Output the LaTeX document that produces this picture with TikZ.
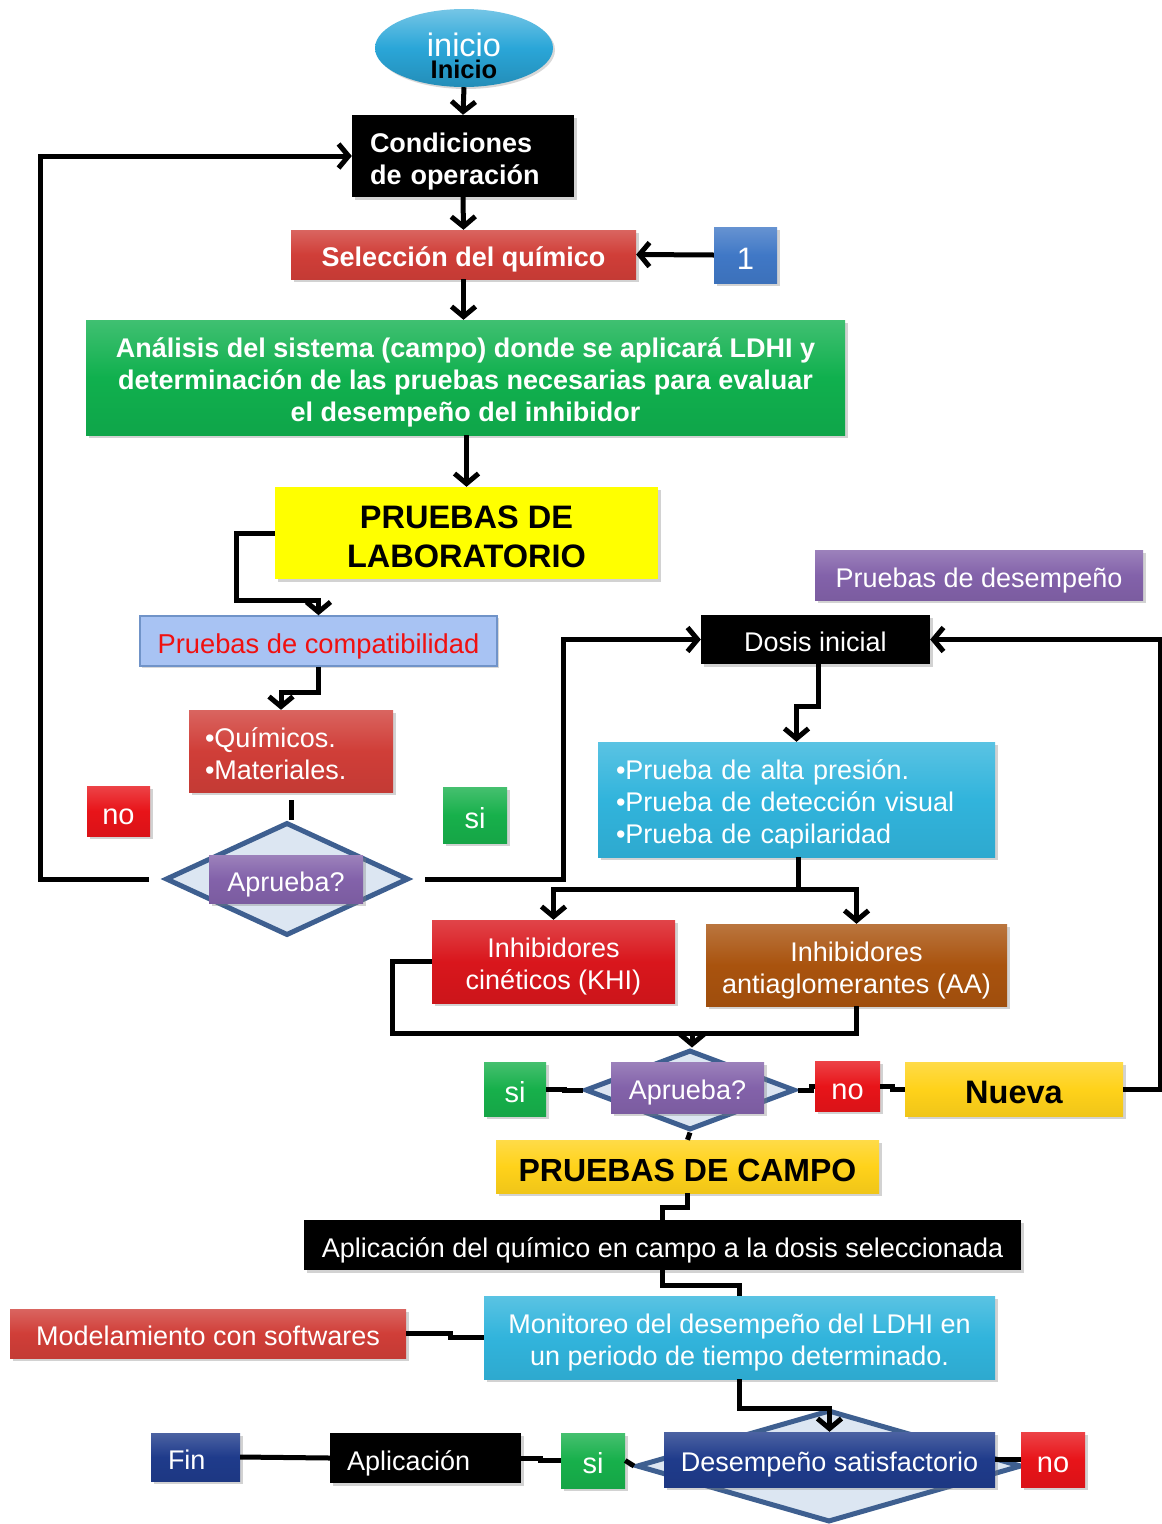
\documentclass[tikz,border=0pt]{standalone}
\usepackage{fontspec}
\setmainfont{Liberation Sans}
\usetikzlibrary{arrows.meta,shapes.geometric,shadows}
\newcommand\Tp{\rule{0pt}{1.16em}}
\newcommand\Bt{\rule[-.24em]{0pt}{.24em}}
\definecolor{cIni}{HTML}{2AA6D8}
\definecolor{cRed}{HTML}{D03E38}
\definecolor{cBlue}{HTML}{4078C6}
\definecolor{cGreen}{HTML}{10B04E}
\definecolor{cYel}{HTML}{FFFF00}
\definecolor{cComp}{HTML}{A8C3F3}
\definecolor{cCompB}{HTML}{7093C8}
\definecolor{cCompT}{HTML}{F01010}
\definecolor{cNo}{HTML}{E81419}
\definecolor{cSi}{HTML}{17B04B}
\definecolor{cDiaF}{HTML}{DCE6F2}
\definecolor{cDiaB}{HTML}{3E5F90}
\definecolor{cPur}{HTML}{8362AA}
\definecolor{cCyan}{HTML}{31B4DC}
\definecolor{cKhi}{HTML}{D9161C}
\definecolor{cAA}{HTML}{A9530E}
\definecolor{cGold}{HTML}{FFD21A}
\definecolor{cNavy}{HTML}{1F3B8B}
\begin{document}
\begin{tikzpicture}[x=1pt,y=-1pt,
  line/.style={line width=5pt,black},
  arr/.style={line,-{Straight Barb[length=10pt,width=24pt]}},
  box/.style={rectangle,inner sep=0pt,align=center,text=white,
    drop shadow={shadow xshift=2.5pt,shadow yshift=-2.5pt,opacity=.35}},
  g/.style={top color=#1!80!white,bottom color=#1!94!black,middle color=#1},
  fB/.style={font=\bfseries\fontsize{27}{32}\selectfont},
  fR/.style={font=\fontsize{27}{32}\selectfont},
  fBig/.style={font=\bfseries\fontsize{32.5}{39}\selectfont},
  fSi/.style={font=\fontsize{29}{32}\selectfont},
  dia/.style={diamond,draw=cDiaB,line width=5pt,fill=cDiaF,inner sep=0pt}]
\useasboundingbox (0,0) rectangle (1162,1524);
\fill[white] (0,0) rectangle (1162,1524);

% top
\node[ellipse,inner sep=0pt,minimum width=178pt,minimum height=78pt,
  top color=cIni!65!white,bottom color=cIni!85!black,middle color=cIni,
  drop shadow={shadow xshift=2pt,shadow yshift=-2pt,opacity=.3}] (ini) at (464,48) {};
\node[text=white,font=\fontsize{32.5}{36}\selectfont] (iniA) at (464,45) {inicio};
\node[text=black,font=\bfseries\fontsize{25.5}{30}\selectfont] (iniB) at (464,69) {Inicio};

\node[box,fill=black,minimum width=222pt,minimum height=82pt,text width=186pt,align=left,fB] (cond) at (463,156) {\Tp Condiciones\\de operación\Bt};
\node[box,g=cRed,minimum width=345pt,minimum height=49pt,fB] (sel) at (463.5,254.5) {\Tp Selección del químico\Bt};
\node[box,g=cBlue,minimum width=63pt,minimum height=56pt,font=\fontsize{31}{36}\selectfont] (one) at (745.5,255) {\Tp 1\Bt};
\node[box,g=cGreen,minimum width=759pt,minimum height=115pt,fB] (ana) at (465.5,377.5)
  {\Tp Análisis del sistema (campo) donde se aplicará LDHI y\\determinación de las pruebas necesarias para evaluar\\el desempeño del inhibidor\Bt};
\node[box,fill=cYel,text=black,minimum width=383pt,minimum height=92pt,fBig] (lab) at (466.5,533) {\Tp PRUEBAS DE\\LABORATORIO\Bt};

% left branch
\node[rectangle,inner sep=0pt,fill=cComp,draw=cCompB,line width=1.5pt,text=cCompT,minimum width=357pt,minimum height=50pt,
  font=\fontsize{27.3}{32}\selectfont,drop shadow={shadow xshift=2pt,shadow yshift=-2pt,opacity=.3}] (comp) at (318.5,641) {\Tp Pruebas de compatibilidad\Bt};
\node[box,g=cRed,minimum width=204pt,minimum height=82pt,text width=172pt,align=left,fR] (quim) at (291,751) {\Tp•Químicos.\\•Materiales.\Bt};
\node[box,g=cNo,minimum width=63pt,minimum height=50pt,fSi] (no1) at (118.5,811) {\Tp no\Bt};
\node[box,g=cSi,minimum width=64pt,minimum height=56pt,fSi] (si1) at (475,815) {\Tp si\Bt};
\node[dia,minimum width=243pt,minimum height=113pt] (dia1) at (287,879) {};
\node[box,g=cPur,minimum width=154pt,minimum height=48pt,fR] (apr1) at (286,879) {\Tp Aprueba?\Bt};

% right branch
\node[box,g=cPur,minimum width=328pt,minimum height=50pt,fR] (des) at (979,575) {\Tp Pruebas de desempeño\Bt};
\node[box,fill=black,minimum width=229pt,minimum height=49pt,fR] (dosis) at (815.5,639.5) {\Tp Dosis inicial\Bt};
\node[box,g=cCyan,minimum width=397pt,minimum height=115pt,text width=361pt,align=left,fR] (prb) at (796.5,799.5)
  {\Tp•Prueba de alta presión.\\•Prueba de detección visual\\•Prueba de capilaridad\Bt};
\node[box,g=cKhi,minimum width=243pt,minimum height=83pt,fR] (khi) at (553.5,961.5) {\Tp Inhibidores\\cinéticos (KHI)\Bt};
\node[box,g=cAA,minimum width=301pt,minimum height=82pt,fR] (aa) at (856.5,965) {\Tp Inhibidores\\antiaglomerantes (AA)\Bt};

\node[dia,minimum width=210pt,minimum height=80pt] (dia2) at (690,1090) {};
\node[box,g=cPur,minimum width=153pt,minimum height=51pt,fR] (apr2) at (687.5,1087.5) {\Tp Aprueba?\Bt};
\node[box,g=cSi,minimum width=62pt,minimum height=54pt,fSi] (si2) at (515,1089) {\Tp si\Bt};
\node[box,g=cNo,minimum width=65pt,minimum height=50pt,fSi] (no2) at (847.5,1086) {\Tp no\Bt};
\node[box,g=cGold,text=black,minimum width=218pt,minimum height=54pt,fBig] (nueva) at (1014,1089) {\Tp Nueva\Bt};
\node[box,g=cGold,text=black,minimum width=383pt,minimum height=53pt,font=\bfseries\fontsize{32}{36}\selectfont] (campo) at (687.5,1166.5) {\Tp PRUEBAS DE CAMPO\Bt};

% bottom
\node[box,fill=black,minimum width=717pt,minimum height=50pt,fR] (aplq) at (662.5,1245) {\Tp Aplicación del químico en campo a la dosis seleccionada\Bt};
\node[box,g=cCyan,minimum width=511pt,minimum height=83pt,fR] (mon) at (739.5,1337.5) {\Tp Monitoreo del desempeño del LDHI en\\un periodo de tiempo determinado.\Bt};
\node[box,g=cRed,minimum width=396pt,minimum height=49pt,fR] (mod) at (208,1333.5) {\Tp Modelamiento con softwares\Bt};
\node[dia,minimum width=385pt,minimum height=112pt] (dia3) at (829,1466) {};
\node[box,g=cNavy,minimum width=331pt,minimum height=55pt,fR] (desat) at (829.5,1459.5) {\Tp Desempeño satisfactorio\Bt};
\node[box,g=cNo,minimum width=64pt,minimum height=55pt,fSi] (no3) at (1053,1459.5) {\Tp no\Bt};
\node[box,g=cSi,minimum width=64pt,minimum height=55pt,fSi] (si3) at (593,1460.5) {\Tp si\Bt};
\node[box,fill=black,minimum width=191pt,minimum height=50pt,text width=157pt,align=left,fR] (apl) at (425.5,1458) {\Tp Aplicación\Bt};
\node[box,g=cNavy,minimum width=89pt,minimum height=48pt,text width=55pt,align=left,fR] (fin) at (195.5,1457) {\Tp Fin\Bt};

% connectors
\draw[arr] (ini.south) -- (cond.north);
\draw[arr] (cond.south) -- (sel.north);
\draw[arr] (one.west) -- (sel.east);
\draw[arr] (sel.south) -- (sel.south |- ana.north);
\draw[arr] ([xshift=1pt]ana.south) -- (lab.north);
\draw[arr] (lab.west) -| (236,600) -| (comp.north);
\draw[arr] (comp.south) -- ++(0,26) -| ([xshift=-10pt]quim.north);
\draw[line] ([yshift=-8pt]quim.south) -- (quim.south |- dia1.north);
\draw[arr] ([xshift=-14pt]dia1.west) -| (40,600) |- (cond.west);
\draw[arr] ([xshift=14pt]dia1.east) -| (563,700) |- (dosis.west);
\draw[arr] (nueva.east) -| (1160,900) |- (dosis.east);
\draw[arr] ([xshift=2.5pt]dosis.south) -- ++(0,42) -| (prb.north);
\draw[line] ([xshift=1.5pt]prb.south) -- ++(0,32) coordinate (split);
\draw[arr] (split) -| (khi.north);
\draw[arr] (split) -| (aa.north);
\draw[line] (khi.west) -| (392,1033) -| (aa.south);
\coordinate (join) at (692,1033);
\draw[arr] (join) -- ([xshift=2pt]dia2.north);
\draw[line] (si2.east) -- ++(18,0) |- (dia2.west);
\draw[line] (dia2.east) -- ++(14,0) |- (no2.west);
\draw[line] (no2.east) -- ++(12,0) |- (nueva.west);
\draw[line] (dia2.south) -- (campo.north);
\draw[line] (campo.south) -- ++(0,14) -| (aplq.north);
\draw[line] (aplq.south) -- ++(0,15) -| (mon.north);
\draw[line] (mod.east) -- ++(44,0) |- (mon.west);
\draw[arr] (mon.south) -- ++(0,29) -| (desat.north);
\draw[line] (si3.east) -- (dia3.west);
\draw[line] (desat.east) -- (no3.west);
\draw[line] (apl.east) -- ++(19,0) |- (si3.west);
\draw[line] (fin.east) -- (apl.west);
\end{tikzpicture}
\end{document}
